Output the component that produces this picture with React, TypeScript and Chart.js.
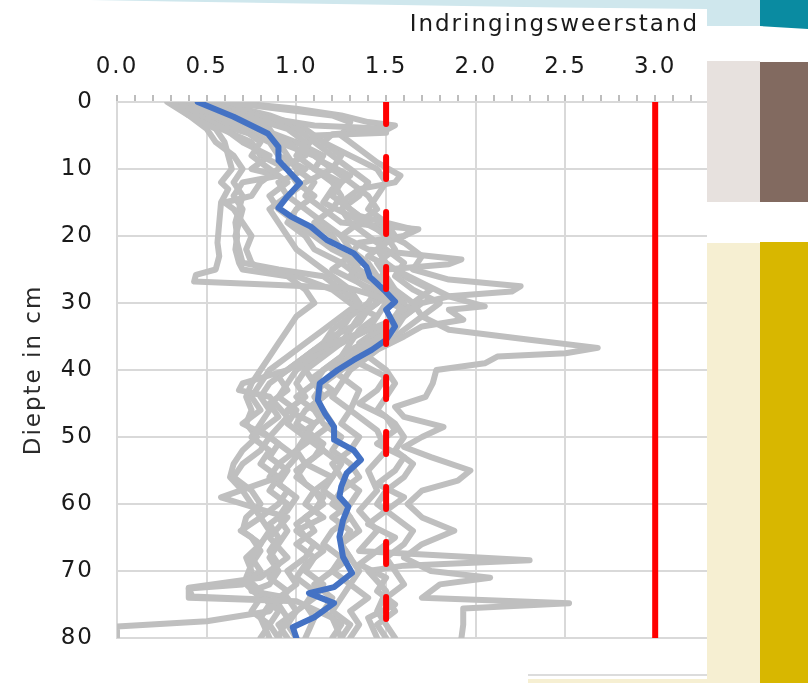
import React, { useEffect, useRef } from 'react';
import { Chart, registerables } from 'chart.js';

Chart.register(...registerables);

// ---- Data: [depth (cm), penetration resistance] ----
const xAxisTitle = 'Indringingsweerstand';
const yAxisTitle = 'Diepte in cm';
const depthMin = 0;
const depthMax = 80;
const depthStep = 10;
const resistanceMin = 0;
const resistanceMax = 3.3;
const resistanceMinorStep = 0.1;
const limitDashed = 1.5;
const limitSolid = 3.0;

const averageProfile: [number, number][] = [
  [0, 0.45], [2.2, 0.65], [4.7, 0.84], [6.7, 0.9], [8.7, 0.9], [10.7, 0.97], [12.1, 1.02],
  [14.1, 0.95], [15.8, 0.9], [17.1, 0.97], [18.6, 1.08], [20.6, 1.17], [22.6, 1.32], [24.6, 1.39],
  [26.1, 1.41], [28.1, 1.49], [29.8, 1.55], [31, 1.5], [33.5, 1.55], [35.5, 1.5], [37, 1.42],
  [38.5, 1.32], [40, 1.23], [42, 1.13], [44.5, 1.12], [46.5, 1.16], [48.5, 1.21], [50.4, 1.21],
  [52, 1.32], [53.4, 1.36], [55.4, 1.28], [57.4, 1.25], [58.9, 1.24], [60.4, 1.29], [62.4, 1.26],
  [64.9, 1.24], [67.9, 1.26], [70.3, 1.31], [72.4, 1.21], [73.3, 1.07], [74.8, 1.21], [76.9, 1.1],
  [78.4, 0.98], [80, 1.0],
];

const profile01: [number, number][] = [
  [0, 0.3], [2, 0.4], [4, 0.55], [6, 0.6], [8, 0.62], [10, 0.64], [12, 0.58], [13, 0.62], [15, 0.58],
  [18, 0.57], [21, 0.56], [23, 0.57], [25, 0.55], [25.8, 0.44], [26.8, 0.43], [27.3, 0.9], [27.8, 1.3],
  [29, 1.45], [31, 1.6], [33, 1.5], [35, 1.3], [37, 1.1], [40, 0.95], [42, 0.7], [43, 0.68], [44, 0.85],
  [47, 0.95], [50, 0.85], [53, 1.0], [56, 0.9], [59, 0.58], [60, 0.7], [62, 0.95], [65, 0.85], [68, 0.95],
  [71, 0.8], [72.5, 0.4], [74, 0.4], [74.5, 1.0], [77, 1.2], [80, 1.25],
];
const profile02: [number, number][] = [
  [0, 0.45], [2, 0.7], [4, 0.95], [6, 1.05], [8, 1.0], [10, 1.1], [12, 1.25], [14, 1.2], [16, 1.3],
  [18, 1.4], [20, 1.5], [22, 1.55], [24, 1.45], [26, 1.5], [28, 1.55], [30, 1.65], [32, 1.7], [34, 1.85],
  [35.5, 2.3], [36.7, 2.68], [37.5, 2.5], [38, 2.12], [39, 2.05], [40, 1.78], [42, 1.76], [44, 1.72],
  [45.5, 1.55], [47, 1.6], [48.5, 1.82], [50, 1.7], [51.5, 1.6], [53, 1.75], [55, 1.97], [56.5, 1.9],
  [58, 1.7], [60, 1.62], [62, 1.7], [64, 1.88], [66, 1.7], [68, 1.6], [70, 1.75], [71, 2.08], [72, 1.8],
  [74, 1.7], [74.8, 2.52], [75.6, 1.93], [78, 1.93], [80, 1.92],
];
const profile03: [number, number][] = [
  [0, 0.5], [2, 0.75], [3.5, 1.1], [4, 1.5], [4.6, 1.5], [5, 1.1], [7, 1.05], [9, 1.15], [11, 1.3],
  [13, 1.2], [15, 1.15], [17, 1.3], [19, 1.45], [21, 1.6], [23, 1.7], [25, 1.65], [26.5, 1.85],
  [27.5, 2.25], [28.3, 2.2], [29, 1.85], [30, 1.7], [32, 1.6], [34, 1.55], [36, 1.4], [38, 1.3], [40, 1.2],
  [43, 1.35], [46, 1.3], [49, 1.45], [52, 1.5], [55, 1.4], [58, 1.45], [61, 1.35], [64, 1.45], [67, 1.35],
  [68.4, 2.3], [69.2, 1.6], [70, 1.4], [73, 1.5], [76, 1.45], [80, 1.55],
];
const profile04: [number, number][] = [
  [0, 0.4], [2, 0.55], [4, 0.7], [6, 0.8], [8, 0.75], [10, 0.85], [12, 0.95], [14, 0.85], [16, 0.9],
  [18, 1.0], [20, 1.1], [22, 1.2], [24, 1.35], [26, 1.3], [28, 1.4], [30, 1.45], [32, 1.35], [34, 1.3],
  [36, 1.25], [38, 1.15], [40, 1.05], [42, 1.0], [44, 1.05], [46, 0.95], [48, 1.1], [50, 1.05], [52, 1.15],
  [54, 1.05], [56, 1.2], [58, 1.1], [60, 1.05], [62, 1.15], [64, 1.0], [66, 1.1], [68, 1.05], [70, 0.95],
  [72, 1.0], [74, 0.9], [76, 0.85], [77.5, 0.5], [78.3, 0.0], [80, 0.0],
];
const profile05: [number, number][] = [
  [0, 0.35], [2, 0.45], [4, 0.6], [6, 0.7], [8, 0.85], [10, 0.75], [11, 0.9], [12, 0.7], [14, 0.65],
  [16, 0.7], [18, 0.68], [20, 0.66], [22, 0.68], [24, 0.7], [25, 0.9], [26, 1.15], [28, 1.25], [30, 1.35],
  [32, 1.25], [34, 1.15], [36, 1.05], [38, 0.95], [40, 0.85], [42, 0.8], [44, 0.75], [46, 0.8], [48, 0.7],
  [50, 0.85], [52, 0.8], [54, 0.7], [56, 0.65], [58, 0.75], [60, 0.8], [62, 0.72], [64, 0.7], [66, 0.8],
  [68, 0.75], [70, 0.8], [72, 0.7], [72.6, 0.4], [73.8, 0.42], [74.3, 0.85], [76, 0.9], [78, 0.85], [80, 0.8],
];
const profile06: [number, number][] = [
  [0, 0.6], [1, 0.9], [2, 1.2], [3, 1.3], [5, 1.25], [7, 1.35], [9, 1.45], [11, 1.58], [12, 1.55],
  [13, 1.35], [15, 1.25], [17, 1.35], [19, 1.65], [20, 1.6], [21, 1.5], [23, 1.4], [25, 1.55], [27, 1.7],
  [29, 1.85], [30.5, 2.05], [31, 1.85], [32.5, 1.93], [33.5, 1.7], [35, 1.6], [37, 1.45], [39, 1.35],
  [41, 1.5], [43, 1.45], [45, 1.35], [47, 1.5], [49, 1.55], [51, 1.45], [53, 1.6], [55, 1.55], [57, 1.45],
  [59, 1.6], [61, 1.5], [63, 1.4], [65, 1.55], [67, 1.45], [69, 1.35], [71, 1.5], [73, 1.45], [75, 1.55],
  [77, 1.4], [80, 1.45],
];
const profile07: [number, number][] = [
  [0, 0.38], [2, 0.5], [4, 0.65], [6, 0.9], [8, 1.1], [10, 1.2], [12, 1.05], [14, 0.95], [16, 1.05],
  [18, 1.15], [20, 1.25], [22, 1.4], [23.5, 1.92], [24.2, 1.85], [25, 1.5], [27, 1.45], [29, 1.5],
  [31, 1.4], [33, 1.35], [35, 1.2], [37, 1.1], [39, 1.0], [41, 0.9], [43, 0.95], [45, 0.85], [47, 0.9],
  [49, 0.8], [51, 0.9], [53, 0.85], [55, 0.95], [57, 0.9], [59, 1.0], [61, 0.95], [63, 0.85], [65, 0.9],
  [67, 0.85], [69, 0.9], [71, 0.85], [73, 0.95], [75, 0.9], [77, 0.95], [80, 0.9],
];
const profile08: [number, number][] = [
  [0, 0.42], [2, 0.55], [4, 0.75], [6, 0.95], [8, 1.05], [10, 0.9], [12, 0.8], [14, 0.75], [15, 0.6],
  [16, 0.65], [18, 0.7], [20, 0.75], [22, 0.72], [24, 0.75], [25, 0.8], [26, 1.0], [28, 1.2], [30, 1.3],
  [32, 1.45], [34, 1.4], [36, 1.25], [38, 1.1], [40, 1.0], [42, 0.95], [44, 0.9], [46, 1.0], [48, 0.95],
  [50, 1.05], [52, 1.0], [54, 0.9], [56, 0.85], [58, 0.95], [60, 0.9], [62, 0.8], [64, 0.69], [65, 0.75],
  [67, 0.8], [69, 0.75], [71, 0.72], [73, 0.8], [75, 0.85], [77, 0.8], [80, 0.85],
];
const profile09: [number, number][] = [
  [0, 0.5], [2, 0.8], [4, 1.0], [6, 1.1], [8, 1.2], [10, 1.3], [12, 1.4], [14, 1.35], [16, 1.25],
  [18, 1.3], [20, 1.4], [22, 1.5], [24, 1.6], [26, 1.55], [28, 1.65], [30, 1.8], [32, 1.7], [34, 1.6],
  [36, 1.5], [38, 1.4], [40, 1.3], [42, 1.25], [44, 1.2], [46, 1.3], [48, 1.25], [50, 1.35], [52, 1.3],
  [54, 1.2], [56, 1.25], [58, 1.35], [60, 1.3], [62, 1.2], [64, 1.3], [66, 1.25], [68, 1.3], [70, 1.2],
  [72, 1.3], [74, 1.25], [76, 1.2], [78, 1.3], [80, 1.25],
];
const profile10: [number, number][] = [
  [0, 0.33], [2, 0.42], [4, 0.58], [6, 0.75], [8, 0.8], [10, 0.95], [12, 1.0], [14, 1.1], [16, 1.0],
  [18, 0.95], [20, 1.05], [22, 1.1], [24, 1.25], [26, 1.35], [28, 1.5], [30, 1.6], [32, 1.55], [34, 1.5],
  [36, 1.45], [38, 1.35], [40, 1.25], [42, 1.15], [44, 1.1], [46, 1.15], [48, 1.2], [50, 1.1], [52, 1.0],
  [54, 1.05], [56, 1.0], [58, 1.1], [60, 1.15], [62, 1.05], [64, 1.1], [66, 1.0], [68, 1.1], [70, 1.05],
  [72, 1.15], [74, 1.1], [76, 1.0], [78, 0.95], [80, 1.0],
];
const profile11: [number, number][] = [
  [0, 0.55], [2, 0.85], [4, 1.05], [6, 1.15], [8, 1.25], [10, 1.2], [12, 1.3], [14, 1.4], [16, 1.45],
  [18, 1.35], [20, 1.25], [22, 1.3], [24, 1.4], [26, 1.45], [28, 1.55], [30, 1.5], [32, 1.45], [34, 1.35],
  [36, 1.3], [38, 1.25], [40, 1.15], [42, 1.1], [44, 1.15], [46, 1.05], [48, 1.0], [50, 1.1], [52, 1.15],
  [54, 1.25], [56, 1.2], [58, 1.15], [60, 1.25], [62, 1.3], [64, 1.2], [66, 1.15], [68, 1.25], [70, 1.2],
  [72, 1.1], [74, 1.2], [76, 1.15], [78, 1.25], [80, 1.2],
];
const profile12: [number, number][] = [
  [0, 0.45], [2, 0.65], [4, 0.85], [6, 0.9], [8, 0.95], [10, 1.0], [12, 1.1], [14, 1.05], [16, 1.15],
  [18, 1.25], [19, 1.68], [20, 1.6], [21, 1.35], [23, 1.3], [25, 1.2], [27, 1.35], [29, 1.5], [31, 1.65],
  [33, 1.55], [35, 1.45], [37, 1.3], [39, 1.2], [41, 1.1], [43, 1.2], [45, 1.1], [47, 1.15], [49, 1.05],
  [51, 1.15], [53, 1.1], [55, 1.0], [57, 1.05], [59, 1.15], [61, 1.1], [63, 1.0], [65, 1.05], [67, 1.15],
  [69, 1.05], [71, 1.0], [73, 1.1], [75, 1.05], [77, 1.1], [80, 1.05],
];
const profile13: [number, number][] = [
  [0, 0.28], [2, 0.4], [4, 0.5], [6, 0.55], [8, 0.65], [10, 0.7], [12, 0.65], [14, 0.7], [16, 0.68],
  [18, 0.66], [20, 0.67], [22, 0.66], [24, 0.68], [25, 0.7], [26, 0.95], [28, 1.05], [30, 1.1], [32, 1.0],
  [34, 0.95], [36, 0.9], [38, 0.85], [40, 0.8], [42, 0.75], [44, 0.72], [46, 0.75], [48, 0.72], [50, 0.78],
  [52, 0.7], [54, 0.65], [56, 0.63], [58, 0.7], [60, 0.75], [62, 0.8], [64, 0.85], [66, 0.8], [68, 0.72],
  [70, 0.75], [72, 0.72], [74, 0.8], [76, 0.75], [78, 0.85], [80, 0.9],
];
const profile14: [number, number][] = [
  [0, 0.62], [1, 1.0], [2, 1.25], [3, 1.4], [3.5, 1.55], [4.2, 1.5], [4.8, 1.2], [6, 1.15], [8, 1.3],
  [10, 1.45], [12, 1.5], [14, 1.45], [16, 1.4], [18, 1.5], [20, 1.55], [22, 1.45], [24, 1.5], [26, 1.6],
  [28, 1.75], [30, 1.65], [32, 1.6], [34, 1.45], [36, 1.35], [38, 1.4], [40, 1.5], [42, 1.55], [44, 1.5],
  [46, 1.45], [48, 1.55], [50, 1.6], [52, 1.55], [54, 1.65], [56, 1.6], [58, 1.5], [60, 1.45], [62, 1.55],
  [64, 1.65], [66, 1.6], [68, 1.5], [70, 1.55], [72, 1.6], [74, 1.5], [76, 1.55], [78, 1.45], [80, 1.5],
];
const profile15: [number, number][] = [
  [0, 0.48], [2, 0.6], [4, 0.7], [6, 0.85], [8, 0.9], [10, 1.05], [12, 0.9], [14, 0.95], [16, 0.85],
  [18, 0.9], [20, 0.95], [22, 1.0], [24, 1.1], [26, 1.2], [28, 1.3], [30, 1.35], [32, 1.3], [34, 1.2],
  [36, 1.15], [38, 1.05], [40, 0.95], [42, 0.85], [44, 0.8], [46, 0.85], [48, 0.8], [50, 0.75], [52, 0.85],
  [54, 0.8], [56, 0.9], [58, 0.85], [60, 0.95], [62, 0.9], [64, 0.95], [66, 0.9], [68, 0.85], [70, 0.9],
  [72, 0.85], [73, 0.75], [74, 0.95], [76, 1.0], [78, 0.9], [80, 0.95],
];
const profile16: [number, number][] = [
  [0, 0.52], [2, 0.7], [4, 0.8], [6, 1.0], [8, 1.15], [10, 1.1], [12, 1.2], [14, 1.25], [16, 1.2],
  [18, 1.1], [20, 1.2], [22, 1.25], [24, 1.3], [26, 1.4], [28, 1.45], [30, 1.4], [32, 1.3], [34, 1.25],
  [36, 1.2], [38, 1.1], [40, 1.05], [42, 1.1], [44, 1.0], [46, 1.1], [48, 1.15], [50, 1.25], [52, 1.2],
  [54, 1.3], [56, 1.35], [58, 1.25], [60, 1.2], [62, 1.3], [64, 1.35], [66, 1.25], [68, 1.3], [70, 1.35],
  [72, 1.3], [74, 1.4], [76, 1.3], [78, 1.35], [80, 1.3],
];

const grayProfiles = [
  profile01, profile02, profile03, profile04, profile05, profile06, profile07, profile08,
  profile09, profile10, profile11, profile12, profile13, profile14, profile15, profile16,
];

const FONT = 'DejaVu Sans';
const FONT_SIZE = 23;
const SPACING = '2px';
const TEXT = '#1a1a1a';
const GRID = '#d9d9d9';

const toPoints = (arr: [number, number][]) => arr.map(([d, v]) => ({ x: v, y: d }));

const textPlugin = {
  id: 'textStyle',
  beforeUpdate(chart: any) {
    (chart.ctx as any).letterSpacing = SPACING;
  },
  beforeDraw(chart: any) {
    (chart.ctx as any).letterSpacing = SPACING;
  },
  afterDraw(chart: any) {
    const ctx = chart.ctx;
    const xs = chart.scales.x;
    ctx.save();
    (ctx as any).letterSpacing = SPACING;
    ctx.font = `${FONT_SIZE}px "${FONT}"`;
    ctx.fillStyle = TEXT;
    ctx.textAlign = 'right';
    ctx.textBaseline = 'middle';
    ctx.fillText(xAxisTitle, xs.right - 10, xs.top + 25);
    ctx.restore();
  },
};

export default function App() {
  const canvasRef = useRef<HTMLCanvasElement | null>(null);

  useEffect(() => {
    if (!canvasRef.current) return;
    const datasets: any[] = [
      {
        label: 'Grens 1.5',
        data: [
          { x: limitDashed, y: depthMin },
          { x: limitDashed, y: depthMax },
        ],
        showLine: true,
        borderColor: '#ff0000',
        borderWidth: 6,
        borderDash: [22, 33],
        borderCapStyle: 'round',
        pointRadius: 0,
        order: 0,
      },
      {
        label: 'Grens 3.0',
        data: [
          { x: limitSolid, y: depthMin },
          { x: limitSolid, y: depthMax },
        ],
        showLine: true,
        borderColor: '#ff0000',
        borderWidth: 6,
        pointRadius: 0,
        order: 0,
      },
      {
        label: 'Gemiddelde',
        data: toPoints(averageProfile),
        showLine: true,
        borderColor: '#4472c4',
        borderWidth: 6,
        borderJoinStyle: 'round',
        borderCapStyle: 'round',
        pointRadius: 0,
        order: 1,
      },
      ...grayProfiles.map((p, i) => ({
        label: 'Meting ' + (i + 1),
        data: toPoints(p),
        showLine: true,
        borderColor: '#bfbfbf',
        borderWidth: 6,
        borderJoinStyle: 'round',
        borderCapStyle: 'round',
        pointRadius: 0,
        order: 2 + i,
      })),
    ];

    const chart = new Chart(canvasRef.current, {
      type: 'scatter',
      data: { datasets },
      plugins: [textPlugin],
      options: {
        animation: false,
        responsive: false,
        maintainAspectRatio: false,
        layout: { padding: { left: 0, top: 0, right: 99, bottom: 45 } },
        plugins: { legend: { display: false }, tooltip: { enabled: false } },
        elements: { line: { tension: 0 } },
        scales: {
          x: {
            type: 'linear',
            position: 'top',
            min: resistanceMin,
            max: resistanceMax,
            ticks: {
              stepSize: resistanceMinorStep,
              autoSkip: false,
              maxRotation: 0,
              includeBounds: false,
              padding: 14,
              color: TEXT,
              font: { family: FONT, size: FONT_SIZE },
              callback: (v: any) => {
                const r = Math.round(Number(v) * 10);
                return r % 5 === 0 ? (r / 10).toFixed(1) : '';
              },
            },
            grid: {
              color: (c: any) =>
                c.tick && Math.round(c.tick.value * 10) % 5 === 0 ? GRID : 'rgba(0,0,0,0)',
              lineWidth: 2,
              tickColor: '#bdbdbd',
              tickWidth: 2,
              tickLength: 7,
            },
            border: { display: true, color: GRID, width: 2 },
            title: { display: false, text: xAxisTitle },
            afterFit: (s: any) => {
              s.height = 102;
            },
          },
          y: {
            type: 'linear',
            reverse: true,
            min: depthMin,
            max: depthMax,
            ticks: {
              stepSize: depthStep,
              padding: 23,
              color: TEXT,
              font: { family: FONT, size: FONT_SIZE },
            },
            grid: { color: GRID, lineWidth: 2, drawTicks: false },
            border: { display: true, color: GRID, width: 2 },
            title: {
              display: true,
              text: yAxisTitle,
              color: '#2a2a2a',
              font: { family: FONT, size: FONT_SIZE },
              padding: { top: 20, bottom: 0 },
            },
            afterFit: (s: any) => {
              s.width = 117;
            },
          },
        },
      } as any,
    });
    return () => chart.destroy();
  }, []);

  return (
    <div style={{ position: 'fixed', left: 0, top: 0, width: 808, height: 683, background: '#fff', overflow: 'hidden' }}>
      <canvas ref={canvasRef} width={808} height={683} style={{ display: 'block', position: 'absolute', left: 0, top: 0 }} />
      <svg width={808} height={683} style={{ position: 'absolute', left: 0, top: 0, pointerEvents: 'none' }}>
        <path d="M 90 0 L 808 0 L 808 30 L 707 26 L 707 9 Q 420 6 90 0 Z" fill="#cfe7ed" />
        <rect x={707} y={26} width={101} height={657} fill="#ffffff" />
        <path d="M 760 0 L 808 0 L 808 29 L 760 26 Z" fill="#0a8ba1" />
        <rect x={707} y={61} width={53} height={141} fill="#e7e1de" />
        <rect x={760} y={62} width={48} height={140} fill="#826a60" />
        <rect x={707} y={243} width={53} height={440} fill="#f6efd2" />
        <rect x={760} y={242} width={48} height={441} fill="#d8b700" />
        <rect x={528} y={674} width={179} height={2} fill="#dcdcdc" />
        <rect x={528} y={679} width={179} height={4} fill="#f6efd2" />
      </svg>
    </div>
  );
}
